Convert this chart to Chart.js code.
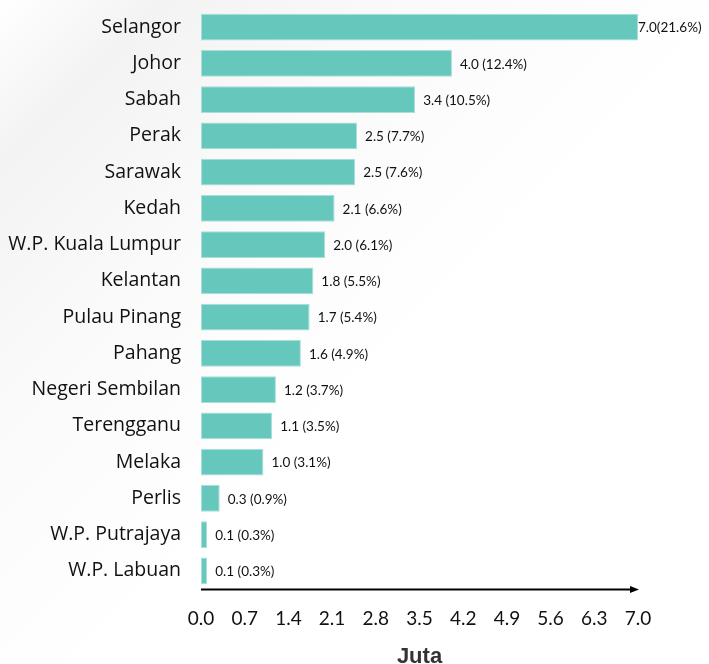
<!DOCTYPE html>
<html>
<head>
<meta charset="utf-8">
<script src="https://cdn.jsdelivr.net/npm/chart.js@4/dist/chart.umd.min.js"></script>
<style>
  html, body { margin: 0; padding: 0; }
  body {
    width: 709px; height: 664px; overflow: hidden;
    background: linear-gradient(135deg, #ffffff 0%, #f3f3f4 12%, #fafafa 30%, #ffffff 55%);
  }
  #wrap { position: relative; width: 709px; height: 664px; }
</style>
</head>
<body>
<div id="wrap"><canvas id="c" width="709" height="664"></canvas></div>
<script>
// states, top to bottom
var states = ['Selangor', 'Johor', 'Sabah', 'Perak', 'Sarawak', 'Kedah', 'W.P. Kuala Lumpur',
  'Kelantan', 'Pulau Pinang', 'Pahang', 'Negeri Sembilan', 'Terengganu', 'Melaka',
  'Perlis', 'W.P. Putrajaya', 'W.P. Labuan'];
// population, juta
var population = [7.0, 4.02, 3.43, 2.5, 2.47, 2.14, 1.99, 1.8, 1.74, 1.6, 1.2, 1.14, 1.0, 0.3, 0.1, 0.1];
// labels printed at bar ends
var valueLabels = ['7.0(21.6%)', '4.0 (12.4%)', '3.4 (10.5%)', '2.5 (7.7%)', '2.5 (7.6%)', '2.1 (6.6%)',
  '2.0 (6.1%)', '1.8 (5.5%)', '1.7 (5.4%)', '1.6 (4.9%)', '1.2 (3.7%)', '1.1 (3.5%)',
  '1.0 (3.1%)', '0.3 (0.9%)', '0.1 (0.3%)', '0.1 (0.3%)'];
var xTicks = [0.0, 0.7, 1.4, 2.1, 2.8, 3.5, 4.2, 4.9, 5.6, 6.3, 7.0];

var barColor = '#66c7bd';

// value labels next to each bar
var endLabels = {
  id: 'endLabels',
  afterDatasetsDraw: function(chart) {
    var ctx = chart.ctx;
    var meta = chart.getDatasetMeta(0);
    ctx.save();
    ctx.font = '13.5px Lato, sans-serif';
    ctx.fillStyle = '#111';
    ctx.textBaseline = 'middle';
    ctx.textAlign = 'left';
    meta.data.forEach(function(bar, i) {
      var gap = i === 0 ? 0 : 8;
      ctx.fillText(valueLabels[i], bar.x + gap, bar.y + 1);
    });
    ctx.restore();
  }
};

// x axis line with an arrow head
var axisArrow = {
  id: 'axisArrow',
  afterDraw: function(chart) {
    var a = chart.chartArea;
    var ctx = chart.ctx;
    var y = a.bottom + 0.5;
    ctx.save();
    ctx.strokeStyle = '#000';
    ctx.fillStyle = '#000';
    ctx.lineWidth = 2;
    ctx.beginPath();
    ctx.moveTo(a.left, y);
    ctx.lineTo(a.right - 6, y);
    ctx.stroke();
    ctx.beginPath();
    ctx.moveTo(a.right + 1, y);
    ctx.lineTo(a.right - 8, y - 3.5);
    ctx.lineTo(a.right - 8, y + 3.5);
    ctx.closePath();
    ctx.fill();
    ctx.restore();
  }
};

new Chart(document.getElementById('c'), {
  type: 'bar',
  data: {
    labels: states,
    datasets: [{
      data: population,
      backgroundColor: barColor,
      borderColor: '#a8e0d9',
      borderWidth: 1,
      borderSkipped: false,
      categoryPercentage: 0.86,
      barPercentage: 0.86
    }]
  },
  options: {
    indexAxis: 'y',
    responsive: false,
    animation: false,
    devicePixelRatio: 1,
    layout: { padding: { left: 0, right: 71, top: 9, bottom: 0 } },
    plugins: { legend: { display: false }, tooltip: { enabled: false } },
    scales: {
      x: {
        min: 0, max: 7,
        grid: { display: false, drawTicks: false },
        border: { display: false },
        afterBuildTicks: function(axis) {
          axis.ticks = xTicks.map(function(v) { return { value: v }; });
        },
        ticks: {
          autoSkip: false,
          maxRotation: 0,
          padding: 18,
          color: '#111',
          font: { family: 'Lato, sans-serif', size: 19 },
          callback: function(v) { return Number(v).toFixed(1); }
        },
        title: {
          display: true,
          text: 'Juta',
          color: '#333',
          font: { family: '"Liberation Sans Narrow", "Liberation Sans", sans-serif', size: 22, weight: 'bold' },
          padding: { top: 0, bottom: -6 }
        },
        afterFit: function(axis) { axis.height = 75; }
      },
      y: {
        grid: { display: false, drawTicks: false },
        border: { display: false },
        ticks: {
          padding: 20,
          color: '#111',
          font: { family: '"Open Sans", sans-serif', size: 19.5 }
        },
        afterFit: function(axis) {
          axis.width = 201;
          axis.paddingTop = 0;
          axis.paddingBottom = 0;
        }
      }
    }
  },
  plugins: [endLabels, axisArrow]
});
</script>
</body>
</html>
